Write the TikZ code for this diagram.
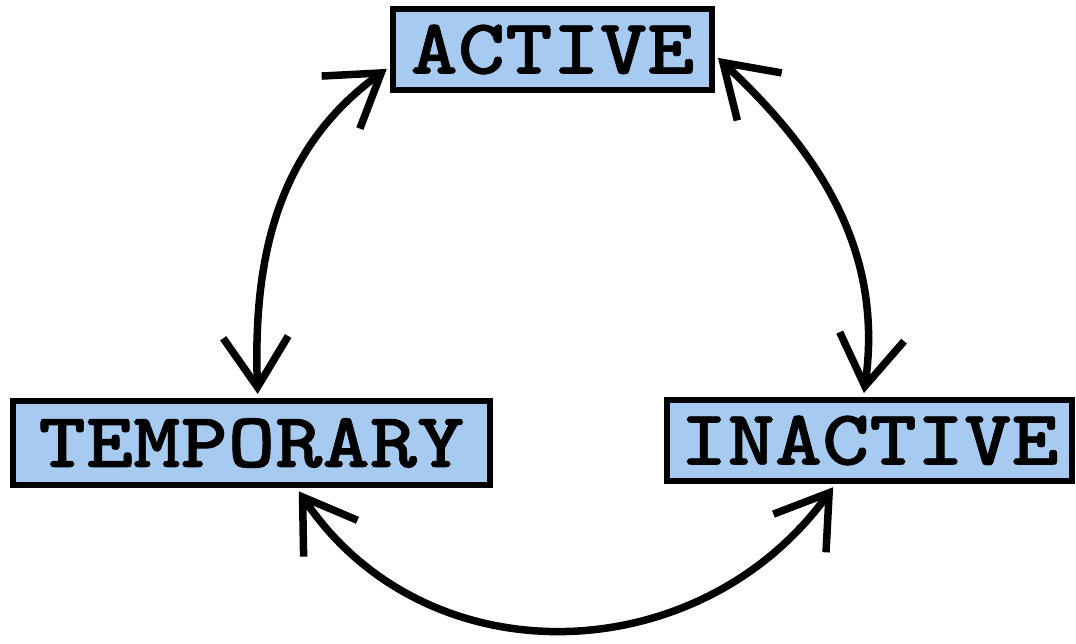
\documentclass[tikz,border=0pt]{standalone}
\usepackage{fontspec}
\newfontfamily\statefont{lmmonolt10-bold.otf}[FakeStretch=1.15, FakeBold=0.8]
\usepackage{tikz}
\usetikzlibrary{arrows.meta, positioning}
\definecolor{stateblue}{RGB}{166,202,240}

\begin{document}
\begin{tikzpicture}[
    x=0.1mm, y=0.1mm,
    state/.style = {rectangle, draw, line width=0.6mm, fill=stateblue, minimum height=8.1mm, inner sep=0pt, font = \fontsize{22.3pt}{24pt}\selectfont\statefont},
    flow/.style = {<->, line width=0.75mm, shorten <=0.4mm, shorten >=0.4mm},
    >={Straight Barb[length=5mm, width=6.5mm]}]

\useasboundingbox (0,0) rectangle (1076,644);

  \node[state, minimum width=31.9mm] (act) at (552.5,594.5) {ACTIVE};
  \node[state, minimum width=47.7mm, minimum height=8.4mm, below left=30.5mm and -10.3mm of act] (temp) {TEMPORARY};
  \node[state, minimum width=40.5mm, below right=30.4mm and -5.1mm of act] (inac) {INACTIVE};

  %connectors
  \draw[flow] (temp.82) to[out=92, in=216] (act.186);
  \draw[flow] (inac.98) to[out=82, in=317] (act.358);
  \draw[flow] (temp.315) to[out=-56, in=234, looseness=1.1] (inac.232);
\end{tikzpicture}
\end{document}
